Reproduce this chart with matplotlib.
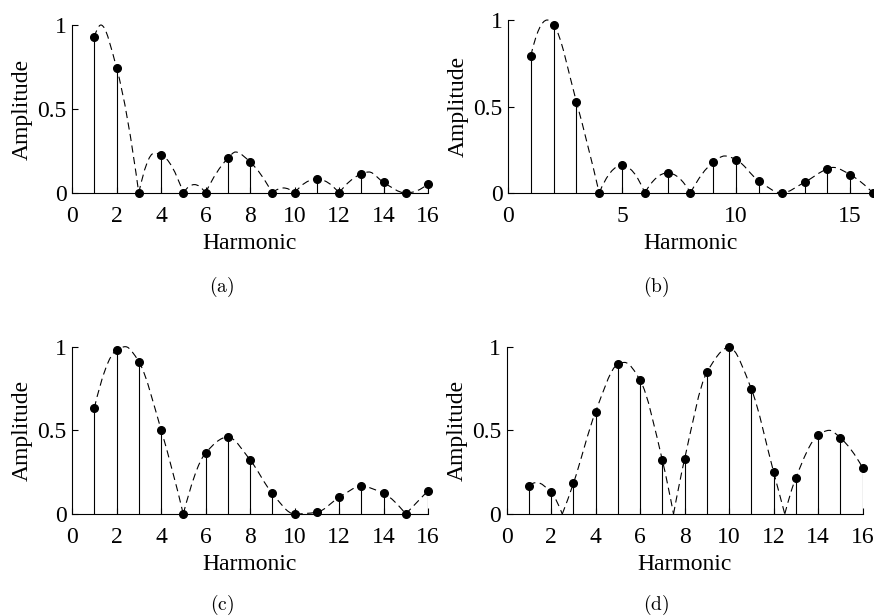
import numpy as np
import matplotlib
matplotlib.use('Agg')
from matplotlib import pyplot as plt
from matplotlib.path import Path
from matplotlib.patches import PathPatch

plt.rcParams['font.family'] = 'Liberation Serif'
plt.rcParams['mathtext.fontset'] = 'cm'

harmonics = np.arange(1, 17)

# amplitude of each harmonic
amp_a = [0.927, 0.746, 0, 0.228, 0, 0, 0.206, 0.185, 0, 0, 0.083, 0, 0.113, 0.063, 0, 0.054]
amp_b = [0.792, 0.971, 0.527, 0, 0.160, 0, 0.116, 0, 0.178, 0.193, 0.069, 0, 0.062, 0.139, 0.106, 0]
amp_c = [0.632, 0.980, 0.911, 0.505, 0, 0.364, 0.460, 0.324, 0.123, 0, 0.010, 0.099, 0.165, 0.123, 0, 0.139]
amp_d = [0.169, 0.129, 0.183, 0.612, 0.895, 0.799, 0.320, 0.330, 0.847, 0.996, 0.746, 0.250, 0.217, 0.471, 0.455, 0.276]

# extra envelope knots between harmonics (lobe tops, zeros)
env_a = [(1.3, 1.0), (3.7, 0.238), (5.5, 0.05), (7.35, 0.244), (9.5, 0.03), (13.35, 0.125)]
env_b = [(1.72, 1.0), (9.5, 0.214), (14.25, 0.148)]
env_c = [(2.4, 1.0)]
env_d = [(1.35, 0.188), (2.5, 0), (5.3, 0.906), (7.5, 0), (12.5, 0), (14.5, 0.5)]

# zeros where the envelope has a sharp corner
cusps_a = [3, 5, 6, 9, 10, 12]
cusps_b = [4, 6, 8]
cusps_c = [5, 15]
cusps_d = [2.5, 7.5, 12.5]

xticks_ac = [0, 2, 4, 6, 8, 10, 12, 14, 16]
xticks_b = [0, 5, 10, 15]
yticks = [0, 0.5, 1]
ytick_labels = ['0', '0.5', '1']


def pchip_slopes(x, y):
    h = np.diff(x)
    d = np.diff(y) / h
    n = len(x)
    m = np.zeros(n)
    if n == 2:
        m[:] = d[0]
        return m
    for k in range(1, n - 1):
        if d[k - 1] * d[k] > 0:
            w1 = 2 * h[k] + h[k - 1]
            w2 = h[k] + 2 * h[k - 1]
            m[k] = (w1 + w2) / (w1 / d[k - 1] + w2 / d[k])

    def end(h0, h1, d0, d1):
        s = ((2 * h0 + h1) * d0 - h0 * d1) / (h0 + h1)
        if np.sign(s) != np.sign(d0):
            s = 0
        elif np.sign(d0) != np.sign(d1) and abs(s) > abs(3 * d0):
            s = 3 * d0
        return s

    m[0] = end(h[0], h[1], d[0], d[1])
    m[-1] = end(h[-1], h[-2], d[-1], d[-2])
    return m


def envelope(ax, amps, extra, cusps):
    knots = sorted([(float(x), y) for x, y in zip(harmonics, amps)] + extra)
    segs, cur = [], []
    for x, y in knots:
        cur.append((x, y))
        if x in cusps and len(cur) > 1:
            segs.append(cur)
            cur = [(x, y)]
    if len(cur) > 1:
        segs.append(cur)

    # smooth bezier through the knots of each lobe
    for seg in segs:
        x = np.array([p[0] for p in seg])
        y = np.array([p[1] for p in seg])
        m = pchip_slopes(x, y)
        verts = [(x[0], y[0])]
        codes = [Path.MOVETO]
        for i in range(len(x) - 1):
            h = (x[i + 1] - x[i]) / 3
            verts += [(x[i] + h, y[i] + m[i] * h),
                      (x[i + 1] - h, y[i + 1] - m[i + 1] * h),
                      (x[i + 1], y[i + 1])]
            codes += [Path.CURVE4] * 3
        ax.add_patch(PathPatch(Path(verts, codes), fill=False, ec='k',
                               lw=0.8, ls=(0, (6.5, 4)), clip_on=False))


def panel(rect, amps, extra, cusps, xticks, tag, tag_xy):
    ax = fig.add_axes(rect)
    ax.vlines(harmonics, 0, amps, color='k', lw=0.8)
    envelope(ax, amps, extra, cusps)
    ax.plot(harmonics, amps, 'o', ms=5.5, color='k', clip_on=False, zorder=3)
    ax.set_xlim(0, 16)
    ax.set_ylim(0, 1)
    for s in ['top', 'right']:
        ax.spines[s].set_visible(False)
    for s in ['left', 'bottom']:
        ax.spines[s].set_linewidth(0.8)
    ax.set_xticks(xticks)
    ax.set_yticks(yticks)
    ax.set_yticklabels(ytick_labels)
    ax.tick_params(direction='in', length=4, width=0.8, labelsize=17)
    ax.tick_params(axis='x', pad=9.5)
    ax.tick_params(axis='y', pad=4)
    ax.set_xlabel('Harmonic', fontsize=17, labelpad=4)
    ax.set_ylabel('Amplitude', fontsize=17, labelpad=3)
    fig.text(tag_xy[0], tag_xy[1], r'$\mathrm{(%s)}$' % tag, fontsize=14,
             ha='center', va='center')
    return ax


fig = plt.figure(figsize=(8.74, 6.16), dpi=100)

panel([0.0824, 0.6867, 0.4073, 0.2727], amp_a, env_a, cusps_a, xticks_ac, 'a', (222 / 874, 1 - 287 / 616))
panel([0.5812, 0.6867, 0.4176, 0.2808], amp_b, env_b, cusps_b, xticks_b, 'b', (656 / 874, 1 - 287 / 616))
panel([0.0824, 0.1656, 0.4073, 0.2716], amp_c, env_c, cusps_c, xticks_ac, 'c', (222 / 874, 1 - 605 / 616))
panel([0.5797, 0.1656, 0.4073, 0.2716], amp_d, env_d, cusps_d, xticks_ac, 'd', (656 / 874, 1 - 605 / 616))

fig.savefig('out.png', dpi=100)
